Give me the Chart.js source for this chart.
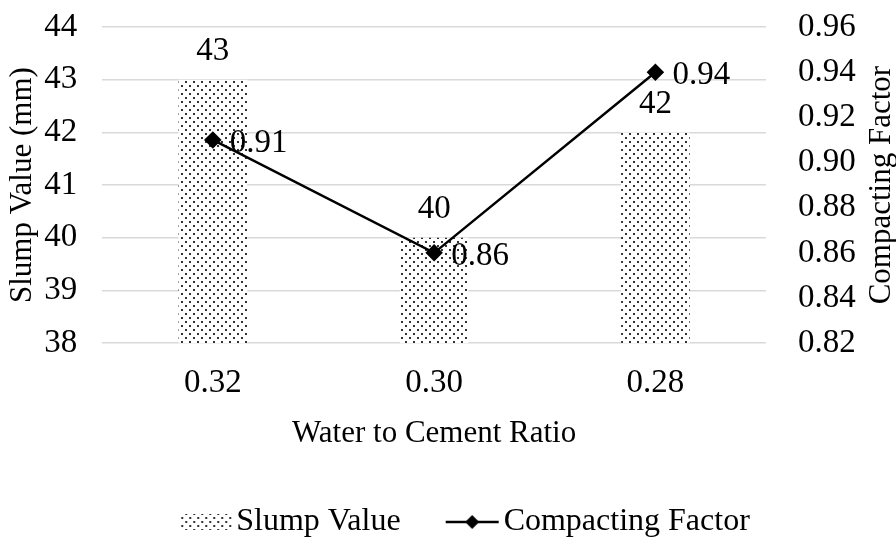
<!DOCTYPE html>
<html>
<head>
<meta charset="utf-8">
<script src="https://cdn.jsdelivr.net/npm/chart.js@4.4.1/dist/chart.umd.min.js"></script>
<style>
  html, body { margin: 0; padding: 0; background: #fff; }
  #wrap { width: 896px; height: 544px; }
</style>
</head>
<body>
<div id="wrap"><canvas id="myChart"></canvas></div>
<script>
// chart data
var ratios = ['0.32', '0.30', '0.28'];
var slumpValues = [43, 40, 42];
var compactingFactors = [0.91, 0.86, 0.94];

// axis ranges: min, max, step
var slumpRange = [38, 44, 1];
var factorRange = [0.82, 0.96, 0.02];

var FONT = '"Liberation Serif", "Times New Roman", serif';
var SIZE = 33;
var TITLE_SIZE = 31;
var TXT = '#000';
var NONE = 'rgba(0,0,0,0)';

// dotted fill for the bars
function makeDots(w, h) {
  var c = document.createElement('canvas');
  c.width = w; c.height = h;
  var g = c.getContext('2d');
  g.fillStyle = '#fff';
  g.fillRect(0, 0, w, h);
  g.fillStyle = '#333';
  g.fillRect(1, 1, 2, 2);
  g.fillRect(5, 5, 2, 2);
  return c;
}
var dotTile = makeDots(8, 8);
var dotFill = dotTile.getContext('2d').createPattern(dotTile, 'repeat');

// legend symbols; the image hangs 14px past each side of the legend box
var legendBox = 70;
var legendCanvasW = legendBox + 28;
function legendPatch() {
  var c = document.createElement('canvas');
  c.width = legendCanvasW; c.height = 20;
  var g = c.getContext('2d');
  g.fillStyle = g.createPattern(dotTile, 'repeat');
  g.fillRect(43, 2, 53, 16);
  return c;
}
function legendLine() {
  var c = document.createElement('canvas');
  c.width = legendCanvasW; c.height = 20;
  var g = c.getContext('2d');
  g.strokeStyle = '#000';
  g.lineWidth = 2.5;
  g.beginPath();
  g.moveTo(42, 10); g.lineTo(95, 10);
  g.stroke();
  g.fillStyle = '#000';
  var cx = 68.5;
  g.beginPath();
  g.moveTo(cx, 3); g.lineTo(cx + 7, 10);
  g.lineTo(cx, 17); g.lineTo(cx - 7, 10);
  g.closePath();
  g.fill();
  return c;
}
var legendSymbols = [legendPatch(), legendLine()];

// value labels: above bars, right of line points
var valueLabels = {
  id: 'valueLabels',
  afterDatasetsDraw: function(chart) {
    var ctx = chart.ctx;
    ctx.save();
    ctx.font = SIZE + 'px ' + FONT;
    ctx.fillStyle = TXT;
    chart.getDatasetMeta(1).data.forEach(function(bar, i) {
      ctx.textAlign = 'center';
      ctx.textBaseline = 'bottom';
      ctx.fillText(String(slumpValues[i]), bar.x, bar.y - 12);
    });
    chart.getDatasetMeta(0).data.forEach(function(pt, i) {
      ctx.textAlign = 'left';
      ctx.textBaseline = 'middle';
      ctx.fillText(compactingFactors[i].toFixed(2), pt.x + 17, pt.y + 3);
    });
    ctx.restore();
  }
};

// right axis title reads bottom to top
var rightTitle = {
  id: 'rightTitle',
  afterDraw: function(chart) {
    var s = chart.scales.y1;
    var ctx = chart.ctx;
    ctx.save();
    ctx.translate(s.right - 14, (s.top + s.bottom) / 2);
    ctx.rotate(-Math.PI / 2);
    ctx.font = TITLE_SIZE + 'px ' + FONT;
    ctx.fillStyle = TXT;
    ctx.textAlign = 'center';
    ctx.textBaseline = 'middle';
    ctx.fillText('Compacting Factor', 0, 0);
    ctx.restore();
  }
};

var ctx = document.getElementById('myChart');
var myChart = new Chart(ctx, {
  data: {
    labels: ratios,
    datasets: [{
      type: 'line',
      label: 'Compacting Factor',
      data: compactingFactors,
      yAxisID: 'y1',
      borderColor: '#000',
      backgroundColor: '#000',
      borderWidth: 2.5,
      pointStyle: 'rectRot',
      pointRadius: 7,
      pointHoverRadius: 7,
      tension: 0,
      order: 0
    }, {
      type: 'bar',
      label: 'Slump Value',
      data: slumpValues,
      yAxisID: 'y',
      backgroundColor: dotFill,
      borderWidth: 0,
      barPercentage: 1,
      categoryPercentage: 0.31,
      order: 1
    }]
  },
  options: {
    responsive: true,
    maintainAspectRatio: false,
    animation: false,
    layout: { padding: { left: 4, right: 0, top: 27, bottom: -4 } },
    scales: {
      x: {
        // invisible tick marks give the gap under the plot
        grid: { display: true, drawOnChartArea: false, color: NONE, tickColor: NONE, tickLength: 18 },
        border: { display: false },
        ticks: { font: { family: FONT, size: SIZE }, color: TXT, padding: 2 },
        title: {
          display: true,
          text: 'Water to Cement Ratio',
          font: { family: FONT, size: TITLE_SIZE },
          color: TXT,
          padding: { top: 10, bottom: 37 }
        }
      },
      y: {
        position: 'left',
        min: slumpRange[0],
        max: slumpRange[1],
        ticks: {
          stepSize: slumpRange[2],
          autoSkip: false,
          font: { family: FONT, size: SIZE },
          color: TXT,
          padding: 3
        },
        grid: { color: '#d9d9d9', lineWidth: 1.5, tickColor: NONE, tickLength: 22 },
        border: { display: false },
        title: {
          display: true,
          text: 'Slump Value (mm)',
          font: { family: FONT, size: TITLE_SIZE },
          color: TXT,
          padding: { top: 0, bottom: 0 }
        }
      },
      y1: {
        position: 'right',
        min: factorRange[0],
        max: factorRange[1],
        ticks: {
          stepSize: factorRange[2],
          autoSkip: false,
          font: { family: FONT, size: SIZE },
          color: TXT,
          padding: 3,
          callback: function(v) { return v.toFixed(2); }
        },
        grid: { display: true, drawOnChartArea: false, color: NONE, tickColor: NONE, tickLength: 29 },
        border: { display: false },
        // space kept for the hand-drawn title
        title: {
          display: true,
          text: 'Compacting Factor',
          font: { family: FONT, size: TITLE_SIZE },
          color: NONE,
          padding: { top: 0, bottom: 0 }
        }
      }
    },
    plugins: {
      legend: {
        position: 'bottom',
        reverse: true,
        labels: {
          usePointStyle: true,
          pointStyleWidth: legendBox,
          font: { family: FONT, size: 32 },
          color: TXT,
          padding: 17,
          generateLabels: function(chart) {
            var items = Chart.defaults.plugins.legend.labels.generateLabels(chart);
            items.forEach(function(it) {
              it.pointStyle = it.datasetIndex === 1 ? legendSymbols[0] : legendSymbols[1];
            });
            return items;
          }
        }
      },
      tooltip: { enabled: false }
    }
  },
  plugins: [valueLabels, rightTitle]
});
</script>
</body>
</html>
